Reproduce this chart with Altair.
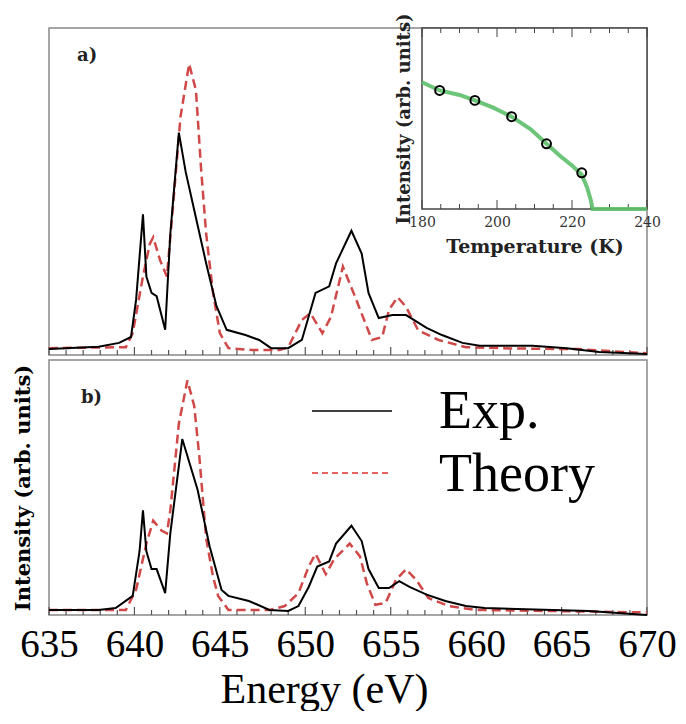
import altair as alt
import pandas as pd

# ---------------- data ----------------
ea_exp = [635.0, 637.9, 639.1, 639.8, 640.1, 640.5, 640.7, 641.0, 641.3, 641.8, 642.1, 642.6,
          643.0, 643.6, 644.2, 644.8, 645.4, 646.5, 647.3, 648.0, 649.0, 649.8, 650.6, 651.4,
          651.8, 652.7, 653.3, 653.7, 654.3, 655.1, 655.9, 657.1, 658.0, 659.2, 660.2, 663.3,
          665.3, 667.2, 670.0]
ia_exp = [0.018, 0.025, 0.037, 0.055, 0.17, 0.43, 0.24, 0.19, 0.18, 0.077, 0.37, 0.68,
          0.56, 0.42, 0.28, 0.15, 0.077, 0.061, 0.046, 0.021, 0.021, 0.046, 0.19, 0.21,
          0.28, 0.38, 0.31, 0.19, 0.113, 0.122, 0.122, 0.083, 0.061, 0.037, 0.028, 0.028,
          0.021, 0.009, 0.003]
ea_th = [635.0, 639.5, 639.9, 640.5, 640.9, 641.1, 641.5, 641.9, 642.2, 642.7, 643.2, 643.6,
         643.9, 644.2, 644.6, 645.0, 645.5, 646.9, 648.5, 649.0, 649.8, 650.3, 651.0, 651.5,
         652.2, 652.9, 653.9, 654.5, 654.9, 655.4, 655.9, 656.6, 657.8, 659.4, 662.0, 666.0,
         670.0]
ia_th = [0.021, 0.024, 0.067, 0.24, 0.34, 0.36, 0.29, 0.24, 0.42, 0.73, 0.89, 0.81,
         0.57, 0.37, 0.19, 0.067, 0.021, 0.015, 0.015, 0.024, 0.107, 0.128, 0.067, 0.116,
         0.27, 0.18, 0.046, 0.055, 0.138, 0.177, 0.147, 0.076, 0.046, 0.024, 0.02, 0.018,
         0.005]
eb_exp = [635.0, 637.9, 638.9, 639.9, 640.3, 640.5, 640.7, 641.0, 641.3, 641.8, 642.1, 642.8,
          643.7, 644.4, 645.1, 645.5, 646.7, 647.9, 649.0, 649.6, 650.2, 650.7, 651.4, 651.8,
          652.7, 653.3, 653.7, 654.3, 654.9, 655.5, 656.1, 657.1, 658.2, 659.4, 660.5, 666.6,
          670.0]
ib_exp = [0.02, 0.02, 0.027, 0.075, 0.25, 0.41, 0.25, 0.18, 0.18, 0.086, 0.32, 0.69,
          0.49, 0.27, 0.098, 0.075, 0.055, 0.02, 0.016, 0.035, 0.11, 0.19, 0.21, 0.28,
          0.35, 0.29, 0.18, 0.106, 0.106, 0.133, 0.11, 0.08, 0.055, 0.035, 0.027, 0.016,
          0.0]
eb_th = [635.0, 639.5, 640.1, 640.7, 641.1, 641.6, 641.9, 642.1, 642.6, 643.1, 643.5, 643.8,
         644.2, 644.6, 644.9, 645.5, 647.9, 648.8, 649.6, 650.2, 650.6, 651.2, 651.7, 652.6,
         653.2, 653.6, 654.1, 654.7, 655.3, 655.9, 656.5, 657.2, 658.4, 660.0, 670.0]
ib_th = [0.02, 0.02, 0.10, 0.28, 0.37, 0.33, 0.32, 0.41, 0.75, 0.92, 0.82, 0.62,
         0.30, 0.15, 0.075, 0.02, 0.02, 0.035, 0.086, 0.19, 0.24, 0.16, 0.22, 0.28,
         0.23, 0.125, 0.04, 0.047, 0.137, 0.18, 0.137, 0.067, 0.035, 0.02, 0.01]

t_fit = [180, 184.7, 190, 194.1, 199, 203.9, 209, 213.2, 217, 220, 222.6, 224, 225, 225.5, 240]
i_fit = [0.70, 0.655, 0.63, 0.60, 0.56, 0.51, 0.44, 0.36, 0.29, 0.24, 0.19, 0.12, 0.05, 0.0, 0.0]
t_pts = [184.7, 194.1, 203.9, 213.2, 222.6]
i_pts = [0.655, 0.60, 0.51, 0.36, 0.20]

energy_ticks = [635, 640, 645, 650, 655, 660, 665, 670]
energy_minor = [e for e in range(635, 671) if e % 5 != 0]
temp_ticks = [180, 200, 220, 240]
temp_minor = [t for t in range(180, 241, 5) if t % 20 != 0]
panel_labels = ["a)", "b)"]
legend_labels = ["Exp.", "Theory"]
y_title = "Intensity (arb. units)"
x_title = "Energy (eV)"
inset_x_title = "Temperature (K)"

# ---------------- layout / style ----------------
W = 598
HA = 327
HB = 255
INSET_L = 373
INSET_H = 181
TIMES = "Liberation Serif"
SCHOOL = "DejaVu Serif"
RED = "#d04848"

one = pd.DataFrame({"d": [0]})

E_SCALE = alt.Scale(domain=[635, 670], nice=False, zero=False)
I_SCALE = alt.Scale(domain=[0, 1], nice=False, zero=False)
T_SCALE = alt.Scale(domain=[180, 240], nice=False, zero=False, range=[INSET_L, W])
TI_SCALE = alt.Scale(domain=[0, 1], nice=False, zero=False, range=[INSET_H, 0])


def spectrum_layers(e_exp, i_exp, e_th, i_th, H, label, lx, ly, show):
    exp_df = pd.DataFrame({"E": e_exp, "I": i_exp})
    th_df = pd.DataFrame({"E": e_th, "I": i_th})
    if show:
        xax = alt.Axis(orient="bottom", values=energy_ticks, ticks=False, domain=False,
                       grid=False, labelFont=TIMES, labelFontSize=39, labelColor="black",
                       labelPadding=10, labelOverlap=False, labelFlush=False,
                       title=x_title, titleFont=TIMES, titleFontSize=42,
                       titleFontWeight="normal", titleColor="black",
                       titlePadding=5, titleX=275)
    else:
        xax = None
    yax = alt.Axis(orient="left", labels=False, ticks=False, domain=False, grid=False,
                   title=y_title, titleFont=SCHOOL, titleFontSize=21,
                   titleFontWeight="bold", titleColor="black" if show else "white",
                   titleOpacity=1 if show else 0, titlePadding=16)
    black = alt.Chart(exp_df).mark_line(color="black", strokeWidth=2).encode(
        x=alt.X("E:Q", scale=E_SCALE, axis=xax),
        y=alt.Y("I:Q", scale=I_SCALE, axis=yax))
    red = alt.Chart(th_df).mark_line(color=RED, strokeWidth=2.5, strokeDash=[9, 5]).encode(
        x=alt.X("E:Q", scale=E_SCALE, axis=None),
        y=alt.Y("I:Q", scale=I_SCALE, axis=None))
    minor = alt.Chart(pd.DataFrame({"E": energy_minor})).mark_rule(
        color="#555", strokeWidth=1.2).encode(
        x=alt.X("E:Q", scale=E_SCALE, axis=None), y=alt.value(H), y2=alt.value(H - 5))
    major = alt.Chart(pd.DataFrame({"E": energy_ticks})).mark_rule(
        color="#555", strokeWidth=1.2).encode(
        x=alt.X("E:Q", scale=E_SCALE, axis=None), y=alt.value(H), y2=alt.value(H - 8))
    lab = alt.Chart(pd.DataFrame({"t": [label]})).mark_text(
        font=SCHOOL, fontSize=18, fontWeight="bold", align="left", baseline="alphabetic",
        color="#222").encode(text="t:N", x=alt.value(lx), y=alt.value(ly))
    return [minor, major, red, black, lab]


# ---- inset layers ----
frame_df = pd.DataFrame({"T0": [180], "T1": [240], "I0": [0.0], "I1": [1.0]})
frame = alt.Chart(frame_df).mark_rect(fill="white", stroke="#444", strokeWidth=1.5).encode(
    x=alt.X("T0:Q", scale=T_SCALE,
            axis=alt.Axis(orient="bottom", offset=-(HA - INSET_H), values=temp_ticks,
                          ticks=False, domain=False, grid=False, labelFont=SCHOOL,
                          labelFontSize=14, labelColor="#333", labelPadding=6,
                          labelFlush=False, labelOverlap=False,
                          title=inset_x_title, titleFont=SCHOOL, titleFontSize=19,
                          titleFontWeight="bold", titleColor="#222", titlePadding=8)),
    x2="T1:Q",
    y=alt.Y("I0:Q", scale=TI_SCALE,
            axis=alt.Axis(orient="left", offset=-INSET_L, labels=False, ticks=False,
                          domain=False, grid=False, title=y_title, titleFont=SCHOOL,
                          titleFontSize=18, titleFontWeight="bold", titleColor="#222",
                          titlePadding=9)),
    y2="I1:Q")


def t_rule(vals, y0, y1):
    return alt.Chart(pd.DataFrame({"T": vals})).mark_rule(color="#444").encode(
        x=alt.X("T:Q", scale=T_SCALE, axis=None), y=alt.value(y0), y2=alt.value(y1))


fit = alt.Chart(pd.DataFrame({"T": t_fit, "I": i_fit})).mark_line(
    color="#5cbf6a", strokeWidth=4, opacity=0.9).encode(
    x=alt.X("T:Q", scale=T_SCALE, axis=None),
    y=alt.Y("I:Q", scale=TI_SCALE, axis=None))
pts = alt.Chart(pd.DataFrame({"T": t_pts, "I": i_pts})).mark_point(
    shape="circle", filled=False, color="black", strokeWidth=2, size=80, opacity=1).encode(
    x=alt.X("T:Q", scale=T_SCALE, axis=None),
    y=alt.Y("I:Q", scale=TI_SCALE, axis=None))

a_layers = spectrum_layers(ea_exp, ia_exp, ea_th, ia_th, HA, panel_labels[0], 28, 33, False)
inset_layers = [frame, t_rule(temp_minor, INSET_H, INSET_H - 5),
                t_rule(temp_ticks, INSET_H, INSET_H - 9), t_rule(temp_minor, 0, 5),
                t_rule(temp_ticks, 0, 9), fit, pts]

panel_a = alt.layer(*a_layers, *inset_layers).resolve_scale(
    x="independent", y="independent").properties(width=W, height=HA)

# ---- panel b with legend ----
b_layers = spectrum_layers(eb_exp, ib_exp, eb_th, ib_th, HB, panel_labels[1], 32, 43, True)
leg_black = alt.Chart(one).mark_rule(color="black", strokeWidth=1.6).encode(
    x=alt.value(263), x2=alt.value(343), y=alt.value(51))
leg_red = alt.Chart(one).mark_rule(color="#e03030", strokeWidth=1.5, strokeDash=[6, 4]).encode(
    x=alt.value(263), x2=alt.value(340), y=alt.value(113))
leg_t1 = alt.Chart(pd.DataFrame({"t": [legend_labels[0]]})).mark_text(
    font=TIMES, fontSize=54, align="left", baseline="alphabetic", color="black").encode(
    text="t:N", x=alt.value(390), y=alt.value(68))
leg_t2 = alt.Chart(pd.DataFrame({"t": [legend_labels[1]]})).mark_text(
    font=TIMES, fontSize=54, align="left", baseline="alphabetic", color="black").encode(
    text="t:N", x=alt.value(390), y=alt.value(131))

panel_b = alt.layer(*b_layers, leg_black, leg_red, leg_t1, leg_t2).resolve_scale(
    x="independent", y="independent").properties(width=W, height=HB)

chart = alt.vconcat(panel_a, panel_b, spacing=-4).properties(
    padding={"left": 3, "top": 4, "right": 0, "bottom": 0}
).configure_view(stroke="#888", strokeWidth=1.5)

chart.save("out.html", embed_options={"renderer": "svg", "actions": False})
